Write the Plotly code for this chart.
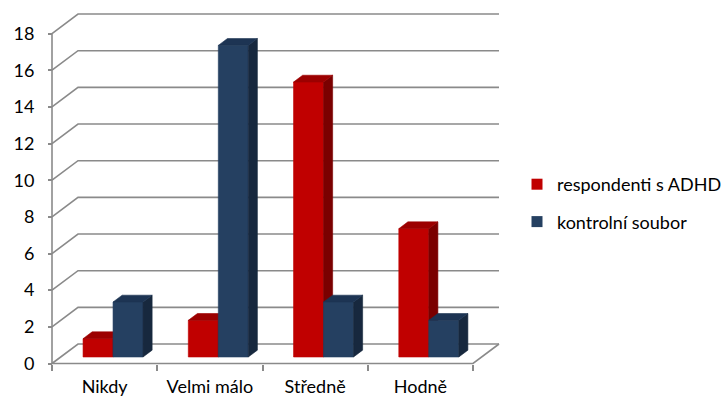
import plotly.graph_objects as go

# ---------------- data ----------------
categories = ["Nikdy", "Velmi málo", "Středně", "Hodně"]
series_names = ["respondenti s ADHD", "kontrolní soubor"]
adhd = [1, 2, 15, 7]
control = [3, 17, 3, 2]
y_ticks = [0, 2, 4, 6, 8, 10, 12, 14, 16, 18]

# ---------------- styles / geometry ----------------
W, H = 726, 398
AX_X0_PX, PX_PER_CAT = 52, 105.25
AX_Y0_PX, PX_PER_UNIT = 363.5, 18.33
WALL_DX = 26 / PX_PER_CAT          # 3D depth offset of back wall (x units)
WALL_DY = 19.5 / PX_PER_UNIT       # 3D depth offset of back wall (y units)
BAR_BASE = 0.355                   # bar front-face base (depth into floor)
BAR_DX = 0.35 * WALL_DX            # bar depth offsets
BAR_DY = 0.35 * WALL_DY
BAR_LEFT = 0.295
BAR_W = 0.285
FONT = "Lato"
GRID = "#8a8a8a"
COLORS = {
    0: dict(front="#c00000", side="#7a0000", top="#9c0000"),
    1: dict(front="#254061", side="#17283e", top="#1d3453"),
}

x_range = [-AX_X0_PX / PX_PER_CAT, (W - AX_X0_PX) / PX_PER_CAT]
y_range = [-(H - AX_Y0_PX) / PX_PER_UNIT, AX_Y0_PX / PX_PER_UNIT]
ncat = len(categories)

fig = go.Figure()

# ---- walls / gridlines ----
gx, gy = [], []
for v in y_ticks:
    gx += [0, WALL_DX, ncat + WALL_DX, None]
    gy += [v, v + WALL_DY, v + WALL_DY, None]
# front axis lines and floor right edge
gx += [0, 0, None, 0, ncat, ncat + WALL_DX, None]
gy += [y_ticks[-1], 0, None, 0, 0, WALL_DY, None]
fig.add_trace(go.Scatter(x=gx, y=gy, mode="lines", line=dict(color=GRID, width=1.6),
                         hoverinfo="skip", showlegend=False))

# ---- 3D bars ----
for s, vals in enumerate([adhd, control]):
    faces = {"front": ([], []), "side": ([], []), "top": ([], [])}
    for i, v in enumerate(vals):
        x0 = i + BAR_LEFT + s * BAR_W
        x1 = x0 + BAR_W
        b, t = BAR_BASE, BAR_BASE + v
        fx, fy = faces["front"]
        fx += [x0, x1, x1, x0, x0, None]
        fy += [b, b, t, t, b, None]
        sx, sy = faces["side"]
        sx += [x1, x1 + BAR_DX, x1 + BAR_DX, x1, x1, None]
        sy += [b, b + BAR_DY, t + BAR_DY, t, b, None]
        tx, ty = faces["top"]
        tx += [x0, x1, x1 + BAR_DX, x0 + BAR_DX, x0, None]
        ty += [t, t, t + BAR_DY, t + BAR_DY, t, None]
    for face in ["front", "side", "top"]:
        c = COLORS[s][face]
        fx, fy = faces[face]
        fig.add_trace(go.Scatter(x=fx, y=fy, mode="lines", fill="toself", fillcolor=c,
                                 line=dict(color=c, width=0.6), hoverinfo="skip",
                                 showlegend=False))

# ---- legend entries ----
for s, name in enumerate(series_names):
    fig.add_trace(go.Scatter(x=[None], y=[None], mode="markers", name=name,
                             legendgroup=name,
                             marker=dict(symbol="square", size=11, color=COLORS[s]["front"])))

fig.update_layout(
    width=W, height=H,
    margin=dict(l=0, r=0, t=0, b=0, autoexpand=False),
    paper_bgcolor="white", plot_bgcolor="white",
    font=dict(family=FONT, size=18, color="#000000"),
    showlegend=True,
    legend=dict(x=517 / W, y=1 - 166 / H, xanchor="left", yanchor="top",
                font=dict(family=FONT, size=18), tracegroupgap=11,
                bgcolor="rgba(0,0,0,0)", itemclick=False, itemdoubleclick=False),
    xaxis=dict(range=x_range, domain=[0, 1], showgrid=False, zeroline=False, showline=False,
               anchor="free", position=(H - AX_Y0_PX) / H, automargin=False,
               tickmode="array", tickvals=[i + 0.5 for i in range(ncat)], ticktext=categories,
               ticks="", ticklabelstandoff=10,
               minor=dict(tickmode="array", tickvals=list(range(ncat + 1)), ticks="outside",
                          ticklen=6, tickcolor=GRID, tickwidth=1.6, showgrid=False),
               fixedrange=True),
    yaxis=dict(range=y_range, domain=[0, 1], showgrid=False, zeroline=False, showline=False,
               anchor="free", position=AX_X0_PX / W, automargin=False,
               tickmode="array", tickvals=y_ticks, ticks="outside", ticklen=4,
               tickcolor=GRID, tickwidth=1.6, ticklabelstandoff=10,
               fixedrange=True),
)

fig.write_html("out.html")
